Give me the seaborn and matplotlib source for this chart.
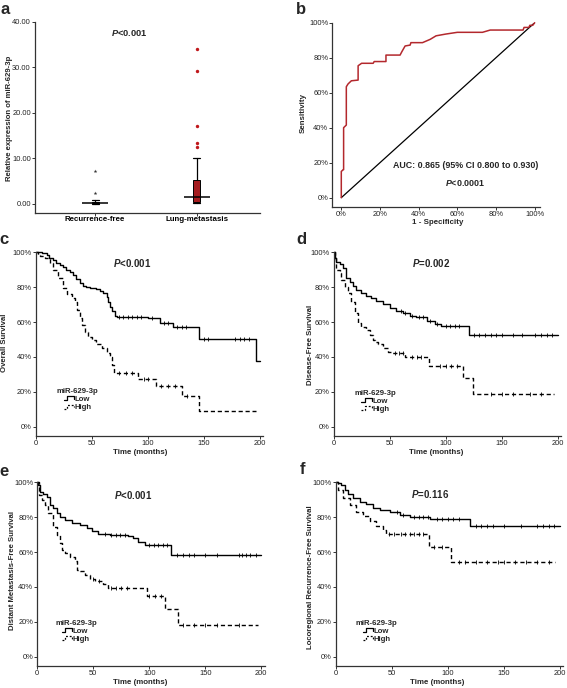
import matplotlib
matplotlib.use("Agg")
import numpy as np
import pandas as pd
import seaborn as sns
import matplotlib.pyplot as plt
import matplotlib.ticker as ticker
from matplotlib.legend_handler import HandlerBase
from matplotlib.lines import Line2D

sns.set_style("ticks")
plt.rcParams["font.family"] = ["Liberation Sans", "DejaVu Sans"]
plt.rcParams["mathtext.fontset"] = "custom"
plt.rcParams["mathtext.it"] = "Liberation Sans:italic:bold"
plt.rcParams["mathtext.rm"] = "Liberation Sans:bold"

# ---- panel a: box plot summary
groups = ["Recurrence-free", "Lung-metastasis"]
box_q1 = [0.15, 0.5]
box_med = [0.3, 1.6]
box_q3 = [0.45, 5.25]
box_lo = [0.0, 0.1]
box_hi = [0.85, 10.0]
fliers_rf = [2.3, 7.15]
fliers_lm = [12.5, 13.4, 17.1, 29.2, 34.0]

# ---- panel b: ROC curve vertices
roc_fpr = [0, 0, 0.01, 0.012, 0.012, 0.026, 0.026, 0.035, 0.052, 0.087, 0.087, 0.105,
           0.165, 0.17, 0.231, 0.231, 0.304, 0.313, 0.33, 0.356, 0.36, 0.42, 0.46, 0.49,
           0.54, 0.6, 0.73, 0.77, 0.94, 0.945, 0.97, 0.975, 0.99, 1.0]
roc_tpr = [0, 0.15, 0.16, 0.16, 0.40, 0.415, 0.634, 0.65, 0.668, 0.672, 0.754, 0.768,
           0.768, 0.778, 0.778, 0.815, 0.815, 0.834, 0.867, 0.872, 0.886, 0.886, 0.905, 0.925,
           0.935, 0.945, 0.945, 0.958, 0.958, 0.973, 0.973, 0.985, 0.985, 1.0]

# ---- panels c-f: Kaplan-Meier steps (time in months, survival fraction)
c_low_t = [0, 5, 9.5, 12, 15.5, 18, 21, 24, 27, 30, 33, 36, 39, 42, 45, 48, 54, 57, 60, 63,
           64.6, 66, 67.6, 70.5, 72, 100, 110.7, 122.6, 145.8, 196.4, 200]
c_low_s = [1.0, 0.995, 0.985, 0.97, 0.956, 0.94, 0.927, 0.913, 0.899, 0.885, 0.87, 0.845,
           0.822, 0.807, 0.80, 0.793, 0.79, 0.78, 0.769, 0.746, 0.717, 0.688, 0.663, 0.637,
           0.631, 0.621, 0.597, 0.574, 0.503, 0.377, 0.377]
c_low_cens = [74, 78, 82, 86, 90, 94, 104, 114, 118, 126, 130, 134, 150, 154, 178, 182, 186, 190]
c_high_t = [0, 2, 3.6, 8, 12.5, 15.5, 20, 24.4, 27.4, 31.8, 34.8, 37, 39.3, 40.8, 43.8, 46.7,
            49.7, 54, 58.6, 63, 66, 67.6, 69.6, 91.4, 107, 130, 145.5, 196.4]
c_high_s = [1.0, 0.985, 0.98, 0.966, 0.937, 0.90, 0.85, 0.793, 0.761, 0.74, 0.713, 0.669,
            0.621, 0.583, 0.545, 0.516, 0.497, 0.472, 0.449, 0.42, 0.40, 0.354, 0.31, 0.273,
            0.235, 0.176, 0.09, 0.09]
c_high_cens = [74, 80, 86, 96, 100, 112, 118, 124, 135]

d_low_t = [0, 1, 2.4, 5.3, 8.3, 11.3, 14.3, 17.2, 20.2, 24.7, 29, 33.6, 38, 44, 50, 56, 62,
           68, 73.7, 83.5, 90, 96, 120.4, 200]
d_low_s = [1.0, 0.966, 0.943, 0.931, 0.908, 0.851, 0.832, 0.807, 0.784, 0.765, 0.75, 0.736,
           0.721, 0.704, 0.683, 0.663, 0.65, 0.635, 0.631, 0.606, 0.589, 0.577, 0.526, 0.526]
d_low_cens = [60, 64, 70, 76, 80, 86, 92, 100, 104, 108, 112, 125, 130, 135, 140, 145, 150,
              160, 168, 180, 185, 190, 195]
d_high_t = [0, 1, 2.4, 5.3, 6.8, 9.8, 12.8, 15.8, 18.7, 21.7, 24.7, 29, 32.7, 35, 36.6, 39.5,
            44, 48.4, 51.4, 63.3, 84.7, 115.3, 124.8, 197]
d_high_s = [1.0, 0.966, 0.899, 0.88, 0.841, 0.803, 0.765, 0.717, 0.65, 0.593, 0.574, 0.555,
            0.526, 0.497, 0.484, 0.474, 0.453, 0.43, 0.421, 0.398, 0.348, 0.281, 0.185, 0.185]
d_high_cens = [55, 58, 62, 70, 74, 78, 95, 100, 105, 110, 140, 150, 160, 175, 185]

e_low_t = [0, 0.5, 2.4, 5.3, 8.3, 11.3, 14.3, 17.2, 20.2, 24.7, 30.6, 38, 44, 48.4, 54.4,
           64.8, 81, 85.6, 90, 96, 119.8, 200]
e_low_s = [1.0, 0.985, 0.943, 0.931, 0.918, 0.87, 0.851, 0.822, 0.803, 0.784, 0.769, 0.756,
           0.74, 0.721, 0.706, 0.698, 0.693, 0.679, 0.656, 0.641, 0.584, 0.584]
e_low_cens = [60, 66, 70, 74, 78, 100, 104, 108, 112, 116, 125, 130, 135, 140, 150, 160,
              180, 183, 186, 190, 195]
e_high_t = [0, 1.8, 3.9, 6.8, 9.8, 14.3, 17.2, 20.2, 21.7, 24.7, 29, 33.6, 35, 38, 42.5, 47,
            51.4, 58.8, 63.3, 97.5, 114.4, 125.7, 197]
e_high_s = [1.0, 0.927, 0.899, 0.87, 0.822, 0.746, 0.698, 0.65, 0.613, 0.594, 0.574, 0.55,
            0.498, 0.489, 0.469, 0.447, 0.431, 0.416, 0.393, 0.345, 0.275, 0.179, 0.179]
e_high_cens = [50, 55, 66, 70, 75, 80, 100, 105, 110, 130, 140, 150, 160, 180]

f_low_t = [0, 2, 5, 8, 11, 15.5, 21.4, 27.4, 33.3, 39.3, 48.2, 57, 66, 84, 119.6, 200]
f_low_s = [1.0, 0.994, 0.985, 0.956, 0.931, 0.908, 0.889, 0.874, 0.855, 0.842, 0.828, 0.815,
           0.803, 0.788, 0.752, 0.752]
f_low_cens = [55, 60, 70, 74, 78, 82, 90, 95, 100, 105, 110, 125, 130, 135, 140, 150, 165,
              180, 185, 190, 195]
f_high_t = [0, 2, 6.5, 12.5, 18.5, 24.4, 30.4, 36.3, 42.3, 45, 83, 103.3, 195.5]
f_high_s = [1.0, 0.956, 0.908, 0.87, 0.832, 0.807, 0.78, 0.752, 0.727, 0.704, 0.628, 0.54,
            0.54]
f_high_cens = [48, 52, 58, 62, 66, 70, 74, 78, 88, 95, 110, 115, 125, 135, 145, 150, 160,
               170, 180, 190]

RED = "#a51c1f"
ROC_RED = "#b3282d"
W, H = 567, 688
fig = plt.figure(figsize=(W / 100, H / 100), dpi=100)


def axes_px(x0, y0, x1, y1):
    return fig.add_axes([x0 / W, 1 - y1 / H, (x1 - x0) / W, (y1 - y0) / H])


def text_px(x, y, s, **kw):
    kw.setdefault("ha", "center")
    kw.setdefault("va", "center")
    fig.text(x / W, 1 - y / H, s, **kw)


def style(ax):
    sns.despine(ax=ax)
    for sp in ("left", "bottom"):
        ax.spines[sp].set_color("#333333")
        ax.spines[sp].set_linewidth(0.9)
    ax.tick_params(direction="out", length=2.2, width=0.7, color="#333333",
                   labelsize=5.4, pad=0.8, labelcolor="#222222")
    ax.set_xlabel("")
    ax.set_ylabel("")


class StepHandler(HandlerBase):
    def create_artists(self, legend, orig_handle, xdescent, ydescent, width, height,
                       fontsize, trans):
        x0, y0 = -xdescent, -ydescent
        xs = [x0, x0 + 0.35 * width, x0 + 0.35 * width, x0 + width, x0 + width]
        ys = [y0 + 0.1 * height, y0 + 0.1 * height, y0 + 0.9 * height,
              y0 + 0.9 * height, y0 + 0.35 * height]
        ls = "-" if orig_handle.get_linestyle() == "-" else (0, (1.5, 1.5))
        return [Line2D(xs, ys, color="black", lw=0.9, linestyle=ls, transform=trans)]


def km_panel(ax, curves, anchor):
    for t, s, cens, ls in curves:
        df = pd.DataFrame({"t": t, "s": s})
        sns.lineplot(data=df, x="t", y="s", drawstyle="steps-post", color="black",
                     lw=1.0, linestyle=ls, estimator=None, ax=ax, clip_on=False)
        idx = np.searchsorted(t, cens, side="right") - 1
        cdf = pd.DataFrame({"t": cens, "s": np.asarray(s)[idx]})
        sns.scatterplot(data=cdf, x="t", y="s", marker="|", s=9, color="black",
                        linewidth=0.6, ax=ax, clip_on=False)
    ax.set_xlim(0, 203)
    ax.set_ylim(-0.052, 1.0)
    ax.set_xticks([0, 50, 100, 150, 200])
    ax.set_yticks(np.arange(0, 1.01, 0.2))
    ax.yaxis.set_major_formatter(ticker.PercentFormatter(1.0, decimals=0))
    style(ax)
    handles = [Line2D([], [], ls="-"), Line2D([], [], ls="--")]
    leg = ax.legend(handles, ["Low", "High"], title="miR-629-3p",
                    handler_map={Line2D: StepHandler()}, loc="upper left",
                    bbox_to_anchor=anchor, frameon=False, fontsize=5.6,
                    title_fontsize=5.6, handlelength=1.3, handleheight=0.6,
                    handletextpad=0.1, labelspacing=0.12, borderpad=0, borderaxespad=0)
    for t in leg.get_texts():
        t.set_fontweight("bold")
    leg.get_title().set_fontweight("bold")


# ---- a
ax = axes_px(35, 22, 260, 213)
stats = [dict(label=g, q1=box_q1[i], med=box_med[i], q3=box_q3[i], whislo=box_lo[i],
              whishi=box_hi[i], fliers=[]) for i, g in enumerate(groups)]
pos = np.arange(len(groups))
ax.bxp(stats, positions=pos, widths=0.07, capwidths=0.07, patch_artist=True,
       showfliers=False,
       boxprops=dict(facecolor=RED, edgecolor="black", linewidth=0.7),
       whiskerprops=dict(color="black", linewidth=0.9),
       capprops=dict(color="black", linewidth=0.9),
       medianprops=dict(linewidth=0))
ax.hlines(box_med, pos - 0.13, pos + 0.13, color="black", lw=1.1, zorder=5)
sns.scatterplot(x=[0] * len(fliers_rf), y=fliers_rf, marker="*", s=8, color="#333333",
                linewidth=0, ax=ax)
sns.scatterplot(x=[1] * len(fliers_lm), y=fliers_lm, marker="o", s=6, color="#c0181c",
                linewidth=0, ax=ax)
ax.set_xlim(-0.59, 1.62)
ax.set_ylim(-2, 40)
ax.set_yticks([0, 10, 20, 30, 40])
ax.yaxis.set_major_formatter(ticker.FormatStrFormatter("%.2f"))
ax.set_xticks(pos)
style(ax)
ax.set_xticklabels(groups, fontweight="bold", fontsize=5.7, color="black")
ax.tick_params(axis="x", length=2, pad=0.5)
text_px(10, 118, "Relative expression of miR-629-3p", rotation=90, fontsize=5.6,
        fontweight="bold")
text_px(129, 33, r"$\mathit{P}$<0.001", fontsize=6.7, fontweight="bold")
text_px(5, 9, "a", fontsize=12, fontweight="bold")

# ---- b
ax = axes_px(332.3, 22.7, 539.7, 207.3)
sns.lineplot(x=[0, 1], y=[0, 1], color="black", lw=0.9, ax=ax)
sns.lineplot(x=roc_fpr, y=roc_tpr, sort=False, estimator=None, color=ROC_RED, lw=1.1,
             ax=ax, clip_on=False)
ax.set_xlim(-0.0465, 1.026)
ax.set_ylim(-0.055, 1.0)
ax.set_xticks(np.arange(0, 1.01, 0.2))
ax.set_yticks(np.arange(0, 1.01, 0.2))
ax.xaxis.set_major_formatter(ticker.PercentFormatter(1.0, decimals=0))
ax.yaxis.set_major_formatter(ticker.PercentFormatter(1.0, decimals=0))
style(ax)
text_px(438, 222, "1 - Specificity", fontsize=5.7, fontweight="bold")
text_px(303, 113, "Sensitivity", rotation=90, fontsize=5.7, fontweight="bold")
text_px(466, 166, "AUC: 0.865 (95% CI 0.800 to 0.930)", fontsize=6.4, fontweight="bold")
text_px(465, 183, r"$\mathit{P}$<0.0001", fontsize=6.4, fontweight="bold")
text_px(301, 9, "b", fontsize=12, fontweight="bold")

# ---- c-f
panels = [
    ("c", (36, 252.3), [(c_low_t, c_low_s, c_low_cens, "-"),
                        (c_high_t, c_high_s, c_high_cens, (0, (3, 2)))],
     (0.092, 0.26), "Overall Survival", (5, 343), (140, 452), r"$\mathit{P}$<0.001",
     (132, 263), (4, 240)),
    ("d", (333.7, 252.3), [(d_low_t, d_low_s, d_low_cens, "-"),
                           (d_high_t, d_high_s, d_high_cens, (0, (3, 2)))],
     (0.092, 0.25), "Disease-Free Survival", (310, 345), (436, 452), r"$\mathit{P}$=0.002",
     (431, 263), (301, 240)),
    ("e", (37.3, 482.3), [(e_low_t, e_low_s, e_low_cens, "-"),
                          (e_high_t, e_high_s, e_high_cens, (0, (3, 2)))],
     (0.078, 0.25), "Distant Metastasis-Free Survival", (13, 570), (140, 682),
     r"$\mathit{P}$<0.001", (133, 495), (4, 472)),
    ("f", (335.7, 482.3), [(f_low_t, f_low_s, f_low_cens, "-"),
                           (f_high_t, f_high_s, f_high_cens, (0, (3, 2)))],
     (0.088, 0.25), "Locoregional Recurrence-Free Survival", (311, 577), (437, 682),
     r"$\mathit{P}$=0.116", (430, 494), (302, 470)),
]
for letter, (x0, y0), curves, anchor, ylab, ylab_xy, xlab_xy, ptxt, p_xy, let_xy in panels:
    ax = axes_px(x0, y0, x0 + 203 * 1.12, y0 + 183.4)
    km_panel(ax, curves, anchor)
    text_px(*ylab_xy, ylab, rotation=90, fontsize=5.6, fontweight="bold")
    text_px(*xlab_xy, "Time (months)", fontsize=5.7, fontweight="bold")
    text_px(*p_xy, ptxt, fontsize=7, fontweight="bold")
    text_px(*let_xy, letter, fontsize=12, fontweight="bold")

fig.savefig("out.png", dpi=100)
